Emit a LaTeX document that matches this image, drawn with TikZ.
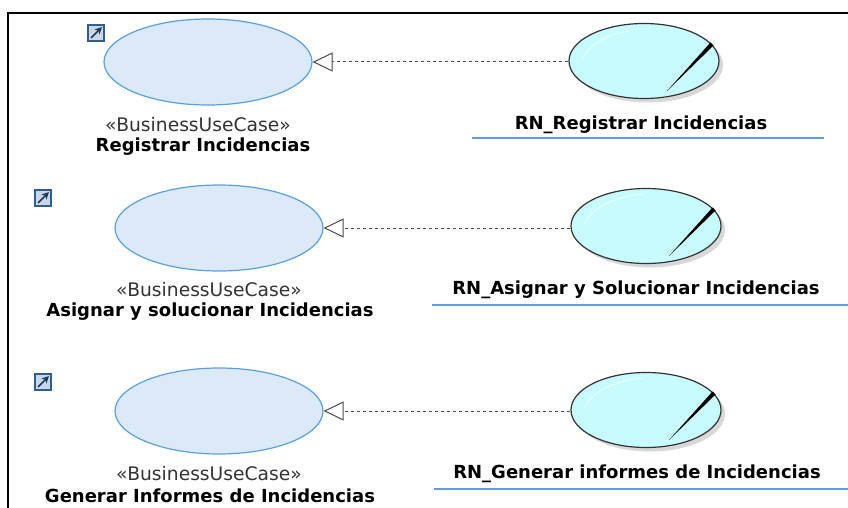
\documentclass[tikz,border=0pt]{standalone}
\usepackage{fontspec}
\setmainfont{DejaVu Sans}
\usetikzlibrary{arrows.meta,shapes.geometric,shadows,calc}
\definecolor{usecaseblue}{HTML}{DCE9F8}
\definecolor{usecaseline}{HTML}{5B9FE3}
\definecolor{ruleteal}{HTML}{C8FBFD}
\definecolor{iconblue}{HTML}{2F5F92}
\begin{document}
\begin{tikzpicture}[x=1pt,y=-1pt,
    usecase/.style={ellipse, draw=usecaseline, line width=1.2, fill=usecaseblue, minimum width=208, minimum height=86, inner sep=0},
    rulecase/.style={ellipse, draw=black!80, line width=1.2, fill=ruleteal, minimum width=150, minimum height=75, inner sep=0,
        drop shadow={shadow xshift=4, shadow yshift=4, fill=black!30}},
    stereo/.style={text=black!80, font=\fontsize{18.7}{21}\selectfont},
    title/.style={text=black, font=\fontsize{18}{21}\selectfont\bfseries},
    linkicon/.style={draw=iconblue, line width=1.8, fill=iconblue!25, minimum size=16, inner sep=0},
    realize/.style={dash pattern=on 3 off 3, draw=black!70, line width=1, -{Triangle[open, length=20, width=19, fill=white]}}]
    \useasboundingbox (0,0) rectangle (848,508);

    % frame, only top and left show
    \coordinate (frameA) at (8,508);
    \coordinate (frameB) at (8,13);
    \coordinate (frameC) at (848,13);
    \draw[line width=1.6] (frameA) -- (frameB) -- (frameC);

    \foreach \n/\ux/\uy/\rx/\ry/\ix/\iy/\sx/\tx/\qx/\ty/\lxa/\lxb/\ly/\name/\rname in {
        1/208/62/644/61/96/33/198/203/641/125/472/824/138/Registrar Incidencias/RN\_Registrar Incidencias,
        2/219/228/646/226/43/198/209/210/636/290/432/848/305/Asignar y solucionar Incidencias/RN\_Asignar y Solucionar Incidencias,
        3/219/411/646/410/43/382/209/210/637/474/434/848/489/Generar Informes de Incidencias/RN\_Generar informes de Incidencias} {
        \node[usecase] (uc\n) at (\ux,\uy) {};
        \node[rulecase] (rn\n) at (\rx,\ry) {};
        \node[linkicon] (icon\n) at (\ix,\iy) {};
        \draw[-{Stealth[length=7,width=7]}, line width=1.6, iconblue!60!black] ($(icon\n.south west)+(4,-4)$) -- ($(icon\n.north east)+(-3,3)$);

        \node[stereo] (st\n) at (\sx,\ty) {«BusinessUseCase»};
        \node[title] (name\n) at (\tx,\ty+22) {\name};
        \node[title] (rname\n) at (\qx,\ty) {\rname};

        \coordinate (ulA\n) at (\lxa,\ly);
        \coordinate (ulB\n) at (\lxb,\ly);
        \draw[usecaseline, line width=1.2] (ulA\n) -- (ulB\n);

        \draw[realize] (rn\n.west |- uc\n.east) -- (uc\n.east);

        % the needle and the glint on the rule ellipse
        \fill[black] ($(rn\n.center)+(66.5,-18.5)$) -- ($(rn\n.center)+(69.5,-15.5)$) -- ($(rn\n.center)+(23,30)$) -- cycle;
        \draw[white, line width=1, opacity=0.6] ($(rn\n.center)+(-62,-2)$) .. controls ($(rn\n.center)+(-52,-22)$) and ($(rn\n.center)+(-25,-30)$) .. ($(rn\n.center)+(-3,-32)$);
    }
\end{tikzpicture}
\end{document}
